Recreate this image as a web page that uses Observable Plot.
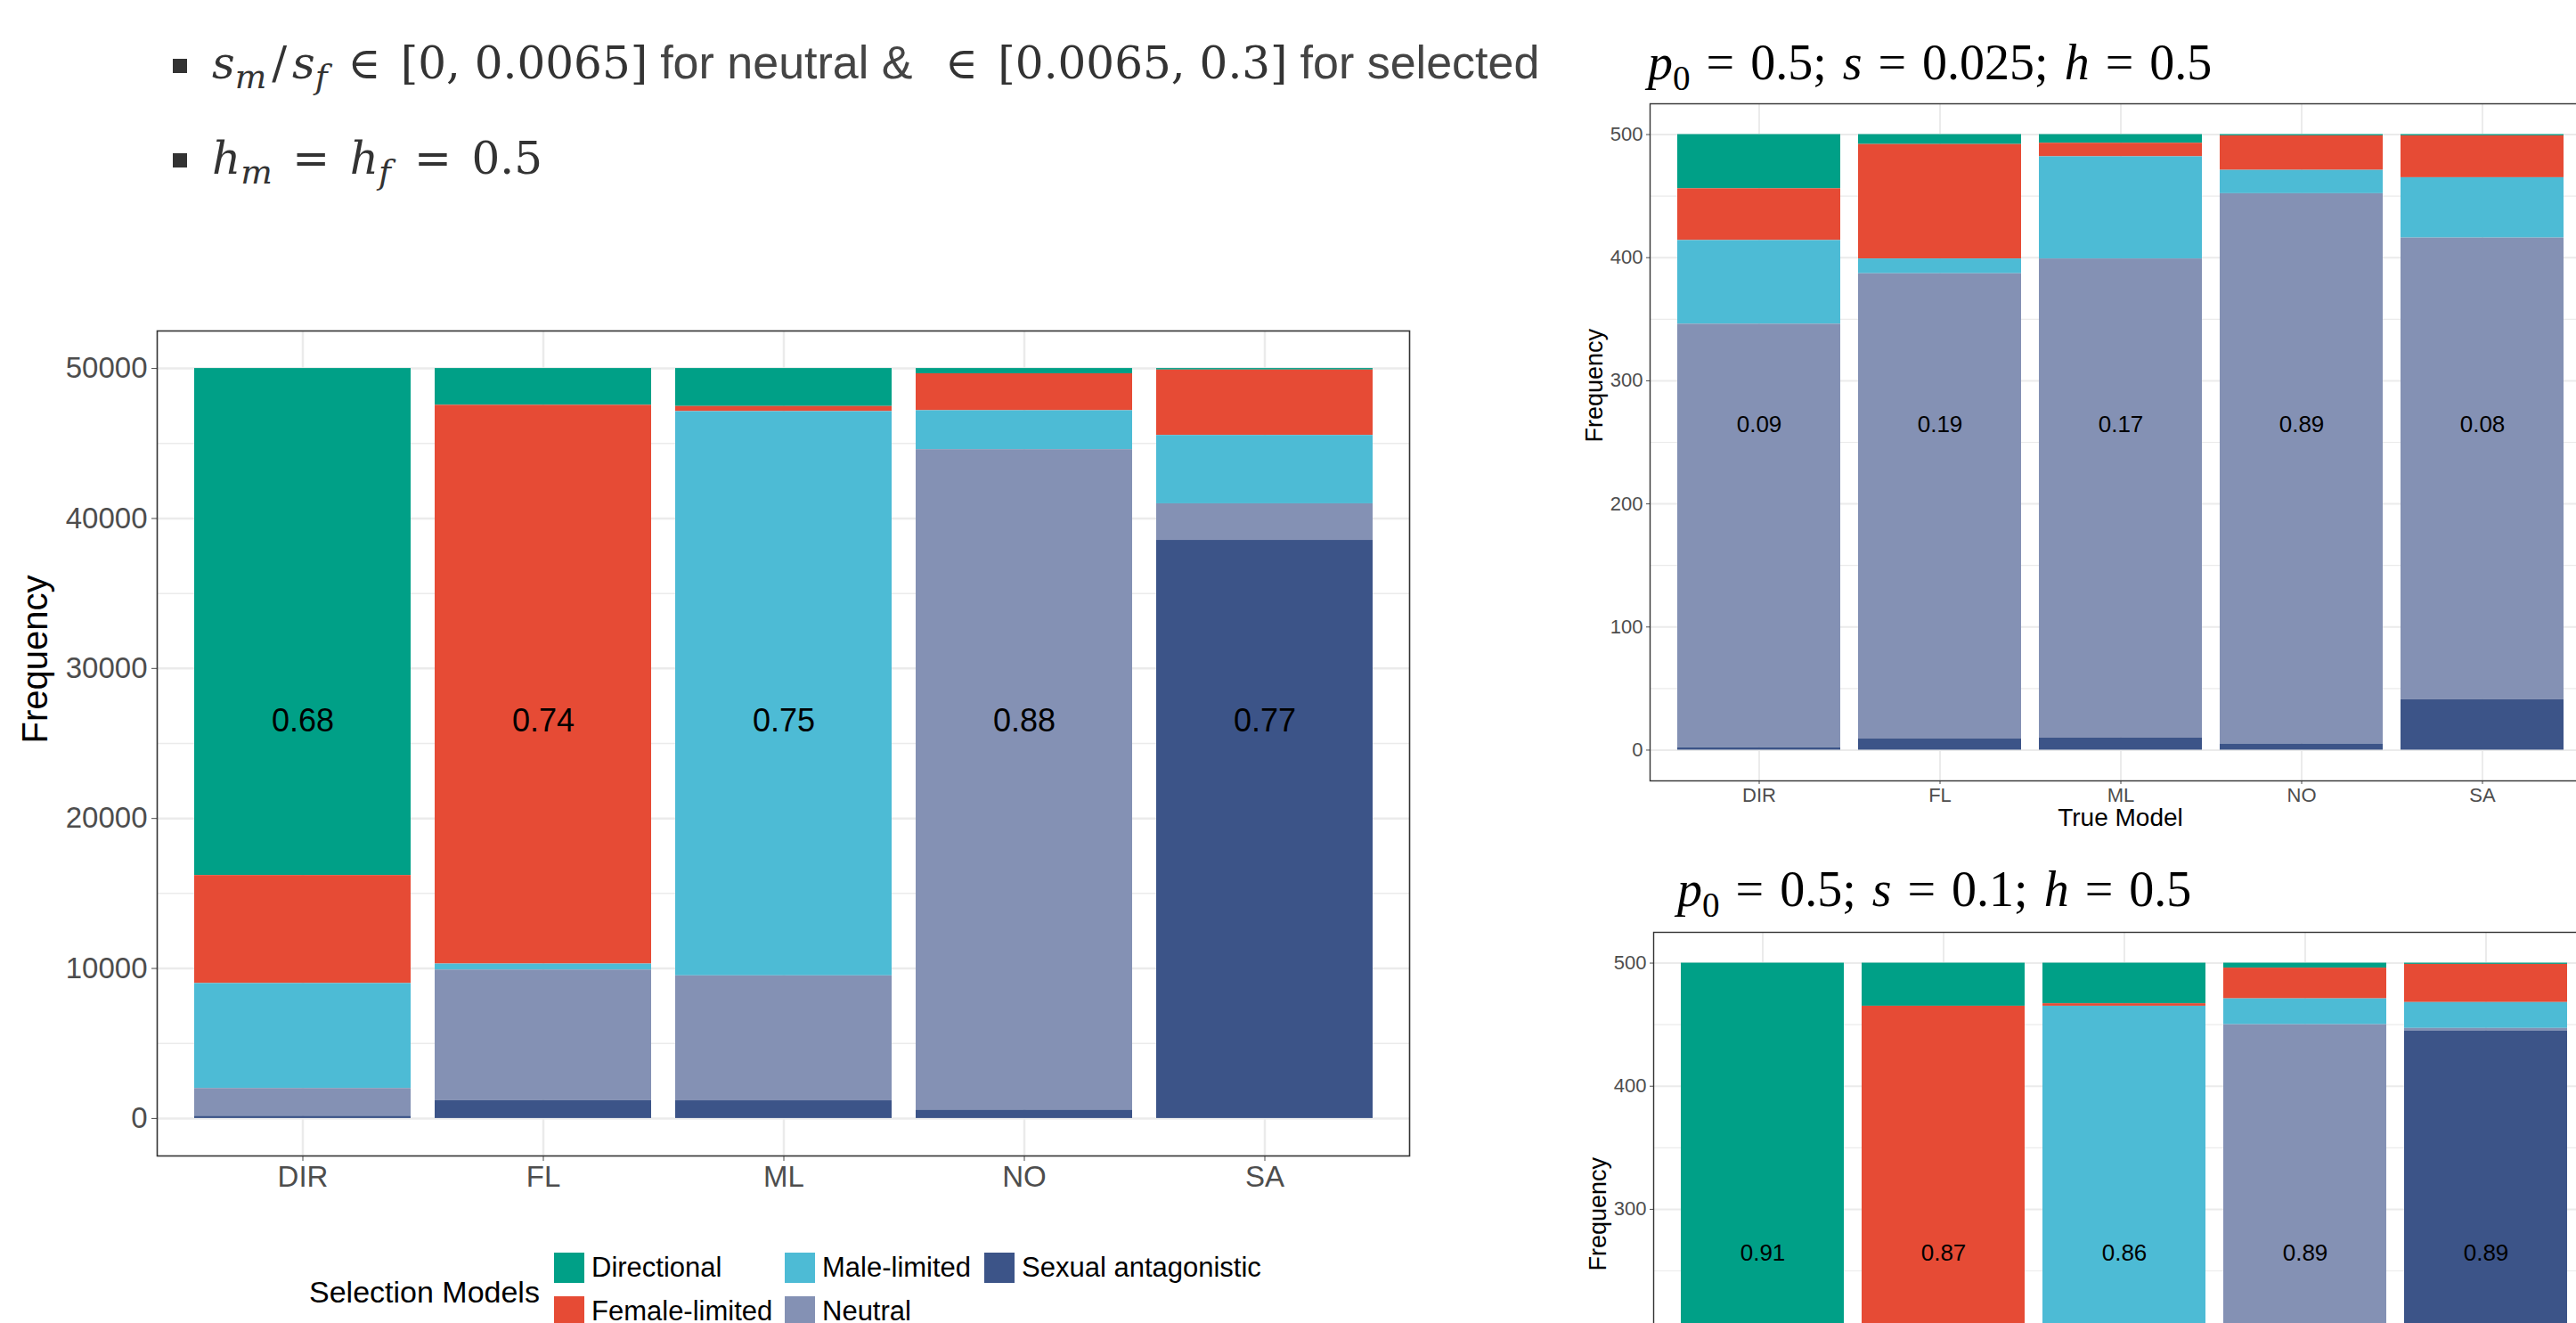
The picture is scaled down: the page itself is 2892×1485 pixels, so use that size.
<!DOCTYPE html>
<html><head><meta charset="utf-8">
<script src="https://cdn.jsdelivr.net/npm/d3@7"></script>
<script src="https://cdn.jsdelivr.net/npm/@observablehq/plot@0.6"></script>
<style>
html,body{margin:0;padding:0;background:#fff;}
body{width:2892px;height:1485px;overflow:hidden;position:relative;font-family:"Liberation Sans",Arial,Helvetica,sans-serif;}
.abs{position:absolute;}
.abs svg{max-width:none !important;}
.sq{position:absolute;left:194px;width:16px;height:16px;background:#333;}
.bl{position:absolute;left:238px;white-space:nowrap;font-size:50px;line-height:56px;color:#333;}
.m{font-family:"DejaVu Serif","Liberation Serif",serif;font-size:50px;}
.m i{font-style:italic}
.m sub{font-size:0.75em;vertical-align:-0.28em;line-height:0}
.t{font-family:"Liberation Sans",Arial,sans-serif;font-size:52px;color:#444}
.rel{margin:0 0.45em}
.sl{margin:0 0.12em}
.ptitle{position:absolute;font-family:"Liberation Serif","Times New Roman",serif;font-size:56px;line-height:56px;white-space:nowrap;color:#000;word-spacing:4px}
.ptitle sub{font-size:0.7em;vertical-align:-0.3em;line-height:0}
.lgkey{position:absolute;width:34px;height:34px;}
.lgtxt{position:absolute;font-size:31px;line-height:34px;white-space:nowrap;color:#000}
</style></head><body>

<div class="sq" style="top:66px"></div>
<div class="bl" style="top:42px"><span class="m"><i>s</i><sub><i>m</i></sub><span class="sl">/</span><i>s</i><sub><i>f</i></sub><span class="rel">∈</span>[0, 0.0065]</span> <span class="t">for neutral &amp;</span> <span class="m"><span class="rel">∈</span>[0.0065, 0.3]</span> <span class="t">for selected</span></div>
<div class="sq" style="top:172px"></div>
<div class="bl" style="top:150px"><span class="m"><i>h</i><sub><i>m</i></sub><span class="rel">=</span><i>h</i><sub><i>f</i>&#8202;</sub><span class="rel">=</span>0.5</span></div>

<div class="ptitle" style="left:1850px;top:42px"><i>p</i><sub>0</sub> = 0.5; <i>s</i> = 0.025; <i>h</i> = 0.5</div>
<div class="ptitle" style="left:1883px;top:970px"><i>p</i><sub>0</sub> = 0.5; <i>s</i> = 0.1; <i>h</i> = 0.5</div>

<div id="main" class="abs" style="left:0px;top:300px;width:1620px"></div>
<div id="top" class="abs" style="left:1700px;top:100px;width:1218px"></div>
<div id="bottom" class="abs" style="left:1704px;top:1030px;width:1218px"></div>
<div id="legend"></div>

<script>
// ---- categories ----
const trueModels = ["DIR", "FL", "ML", "NO", "SA"];
const selectionModels = ["Directional", "Female-limited", "Male-limited", "Neutral", "Sexual antagonistic"];
const modelColors = ["#00A087", "#E64B35", "#4DBBD5", "#8491B4", "#3C5488"];
const stackOrder = ["Sexual antagonistic", "Neutral", "Male-limited", "Female-limited", "Directional"];

// ---- main chart (all parameter values), counts per true model ----
const allDirectional = [33800, 2450, 2530, 350, 100];
const allFemaleLimited = [7200, 37250, 340, 2460, 4360];
const allMaleLimited = [7000, 400, 37620, 2600, 4560];
const allNeutral = [1850, 8700, 8330, 44030, 2440];
const allSexualAntagonistic = [150, 1200, 1180, 560, 38540];
const allAccuracy = ["0.68", "0.74", "0.75", "0.88", "0.77"];

// ---- p0 = 0.5; s = 0.025; h = 0.5 ----
const s025Directional = [44, 8, 7, 1, 1];
const s025FemaleLimited = [42, 93, 11, 28, 34];
const s025MaleLimited = [68, 12, 83, 19, 49];
const s025Neutral = [344, 378, 389, 447, 375];
const s025SexualAntagonistic = [2, 9, 10, 5, 41];
const s025Accuracy = ["0.09", "0.19", "0.17", "0.89", "0.08"];

// ---- p0 = 0.5; s = 0.1; h = 0.5 ----
const s01Directional = [455, 35, 33, 4, 1];
const s01FemaleLimited = [15, 435, 2, 25, 31];
const s01MaleLimited = [15, 5, 430, 21, 21];
const s01Neutral = [13, 20, 30, 445, 2];
const s01SexualAntagonistic = [2, 5, 5, 5, 445];
const s01Accuracy = ["0.91", "0.87", "0.86", "0.89", "0.89"];

const yTickCounts = 5;

function toRows(series) {
  const rows = [];
  trueModels.forEach((t, i) => selectionModels.forEach((m, j) => rows.push({truth: t, model: m, count: series[j][i]})));
  return rows;
}

function stackedBars(cfg) {
  const [mt, mr, mb, ml] = cfg.margins;
  const yMax = cfg.yMax;
  const step = yMax / yTickCounts;
  const major = d3.range(0, yMax + step / 2, step);
  const minor = d3.range(step / 2, yMax, step);
  const marks = [
    Plot.ruleY(minor, {stroke: "#EBEBEB", strokeWidth: cfg.minorW}),
    Plot.ruleY(major, {stroke: "#EBEBEB", strokeWidth: cfg.majorW}),
    Plot.ruleX(trueModels, {stroke: "#EBEBEB", strokeWidth: cfg.majorW}),
    Plot.barY(cfg.rows, {x: "truth", y: "count", fill: "model", order: stackOrder}),
    Plot.text(cfg.labels, {x: (d, i) => trueModels[i], y: () => cfg.labelValue, text: d => d, fontSize: cfg.barFont, fill: "#000"}),
    Plot.axisY(major, {tickSize: cfg.tickSize, tickPadding: cfg.tickPad, fontSize: cfg.tickFont, color: "#4D4D4D", label: null, tickFormat: d3.format("d")}),
    Plot.axisX({tickSize: cfg.tickSize, tickPadding: cfg.tickPad, fontSize: cfg.tickFont, color: "#4D4D4D", label: null}),
    Plot.frame({stroke: "#333", strokeWidth: cfg.frameW}),
    Plot.text(["Frequency"], {frameAnchor: "left", dx: cfg.yTitleDx, rotate: -90, fontSize: cfg.yTitleFont, fill: "#000"})
  ];
  if (cfg.xTitle) marks.push(Plot.text([cfg.xTitle], {frameAnchor: "bottom", dy: cfg.xTitleDy, fontSize: cfg.xTitleFont, fill: "#000"}));
  const svg = Plot.plot({
    width: cfg.width, height: cfg.height,
    marginTop: mt, marginRight: mr, marginBottom: mb, marginLeft: ml,
    style: {fontFamily: "Liberation Sans, Arial, Helvetica, sans-serif", background: "transparent", overflow: "visible", maxWidth: "none"},
    x: {domain: trueModels, paddingInner: 0.1, paddingOuter: 0.15, label: null},
    y: {domain: [-0.05 * yMax, 1.05 * yMax], label: null},
    color: {domain: selectionModels, range: modelColors},
    marks
  });
  svg.style.maxWidth = "none";
  return svg;
}

document.getElementById("main").append(stackedBars({
  rows: toRows([allDirectional, allFemaleLimited, allMaleLimited, allNeutral, allSexualAntagonistic]),
  labels: allAccuracy, yMax: 50000, labelValue: 26500,
  width: 1620, height: 1070, margins: [71, 38, 73, 176],
  tickFont: 33, barFont: 36, yTitleFont: 40, yTitleDx: -136,
  tickSize: 6, tickPad: 5, majorW: 2.5, minorW: 1.5, frameW: 1.6
}));

document.getElementById("top").append(stackedBars({
  rows: toRows([s025Directional, s025FemaleLimited, s025MaleLimited, s025Neutral, s025SexualAntagonistic]),
  labels: s025Accuracy, yMax: 500, labelValue: 264,
  width: 1218, height: 850, margins: [16, 10, 74, 152],
  tickFont: 22, barFont: 26, yTitleFont: 27, yTitleDx: -62,
  tickSize: 4, tickPad: 4, majorW: 2, minorW: 1.2, frameW: 1.4,
  xTitle: "True Model", xTitleFont: 28, xTitleDy: 50
}));

document.getElementById("bottom").append(stackedBars({
  rows: toRows([s01Directional, s01FemaleLimited, s01MaleLimited, s01Neutral, s01SexualAntagonistic]),
  labels: s01Accuracy, yMax: 500, labelValue: 264,
  width: 1218, height: 850, margins: [16, 10, 74, 152],
  tickFont: 22, barFont: 26, yTitleFont: 27, yTitleDx: -62,
  tickSize: 4, tickPad: 4, majorW: 2, minorW: 1.2, frameW: 1.4
}));

// ---- legend ----
const legend = document.getElementById("legend");
const lgTitle = document.createElement("div");
lgTitle.className = "abs";
lgTitle.style.cssText = "left:347px;top:1429px;font-size:34px;line-height:42px;white-space:nowrap;color:#000";
lgTitle.textContent = "Selection Models";
legend.append(lgTitle);
const colX = [622, 881, 1105];
const rowY = [1406, 1455];
selectionModels.forEach((m, i) => {
  const col = Math.floor(i / 2), row = i % 2;
  const key = document.createElement("div");
  key.className = "lgkey";
  key.style.left = colX[col] + "px";
  key.style.top = rowY[row] + "px";
  key.style.background = modelColors[i];
  const txt = document.createElement("div");
  txt.className = "lgtxt";
  txt.style.left = (colX[col] + 42) + "px";
  txt.style.top = rowY[row] + "px";
  txt.textContent = m;
  legend.append(key, txt);
});
</script>
</body></html>
